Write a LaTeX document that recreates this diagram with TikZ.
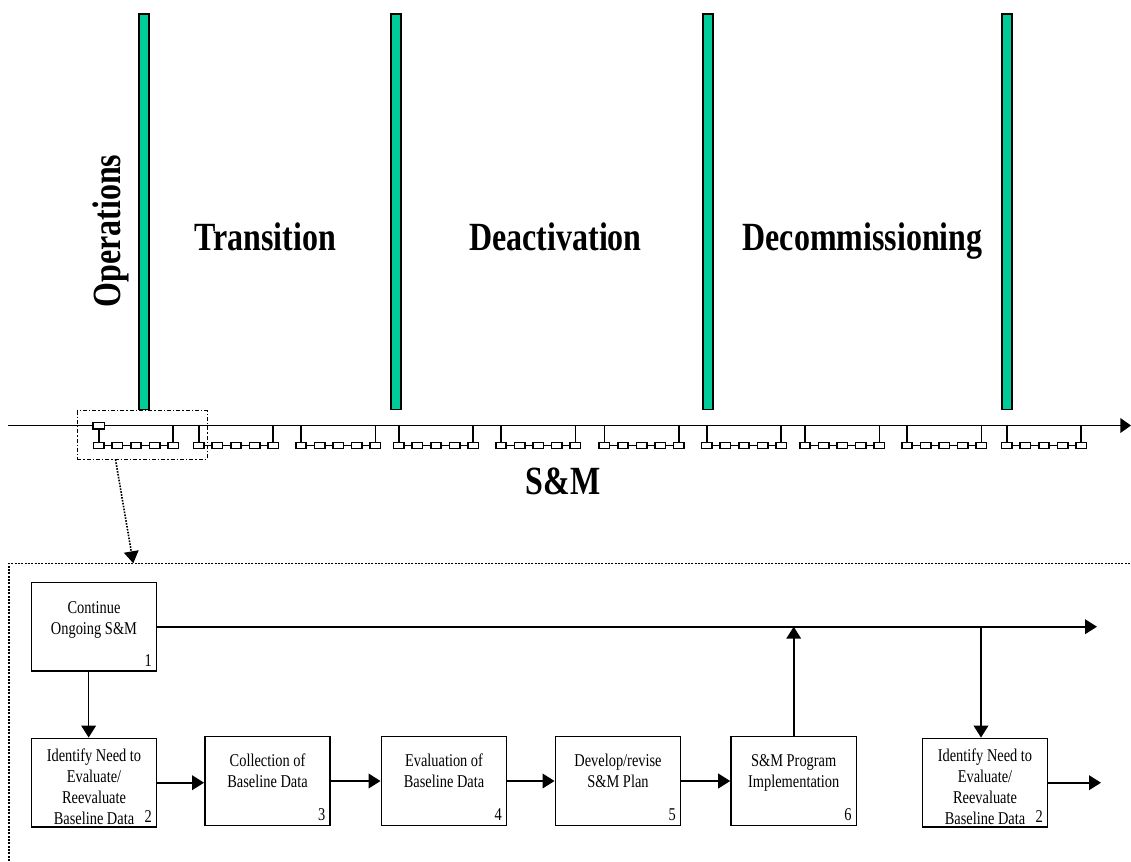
\documentclass[tikz,border=0pt]{standalone}
\usepackage{fontspec}
\setmainfont{Liberation Serif}[FakeStretch=0.8]
\usepackage{tikz}
\usetikzlibrary{arrows.meta}
\definecolor{phasegreen}{RGB}{0,204,153}
\newcommand{\lift}[2]{\raisebox{#1}[0pt][0pt]{\begin{tabular}{@{}c@{}}#2\end{tabular}}}
\tikzset{bar/.style={draw=black, line width=1.2pt, fill=phasegreen},
  cell/.style={draw, line width=1.2pt, minimum width=7.8pt, minimum height=4.6pt, inner sep=0pt},
  link/.style={line width=1.2pt},
  stage/.style={font=\fontsize{30}{36}\selectfont\bfseries, anchor=base, inner sep=0pt},
  task/.style={draw, line width=1.2pt, minimum width=94pt, minimum height=66.5pt,
    inner sep=0pt, font=\fontsize{13.5}{15.75}\selectfont},
  num/.style={anchor=south east, inner xsep=4pt, inner ysep=4pt,
    font=\fontsize{13.5}{15.75}\selectfont},
  flow/.style={line width=1.2pt, -{Triangle[length=9pt,width=11pt]}}}

\begin{document}
\begin{tikzpicture}[x=0.75pt, y=-0.75pt]
      \useasboundingbox (0,0) rectangle (1131,861);

      % phase boundaries
      \foreach \bx in {144.2,396.2,708,1007}
        \draw [bar] (\bx-5,14) rectangle (\bx+5,409.5);

      \node (ops) [stage, rotate=90] at (120,231) {Operations};
      \node (trans) [stage] at (265,250) {Transition};
      \node (deact) [stage] at (555.5,250) {Deactivation};
      \node (decom) [stage] at (862.5,250) {Decommissioning};
      \node (sm) [stage] at (563,494) {S\&M};

      % time line
      \coordinate (axL) at (8,425.5);
      \coordinate (axR) at (1131,425.5);
      \draw [link, -{Triangle[length=8pt,width=11pt]}] (axL) -- (axR);
      \node (hub) [cell, fill=white, minimum width=8.6pt, minimum height=4.8pt] at (98.7,425.5) {};

      \foreach \s [count=\k] in {92.7,192.7,295,392.7,495,598.3,700.7,799,901,1000.7} {
        \foreach \j in {0,...,4}
          \node (c\k-\j) [cell] at (\s+6+18.6*\j,445.5) {};
        \foreach \j [evaluate=\j as \jj using int(\j+1)] in {0,...,3}
          \draw [link] (c\k-\j.east) -- (c\k-\jj.west);
        \ifnum\k=1
          \draw [link] (c\k-0.north) -- (hub.south);
        \else
          \draw [link] (c\k-0.north) -- (c\k-0.north |- axL);
        \fi
        \draw [link] (c\k-4.north) -- (c\k-4.north |- axL);
      }

      % close-up of one cycle
      \node (focus) [draw, line width=0.7pt, dash pattern=on 3pt off 1.5pt on 1pt off 1.5pt,
        minimum width=97.5pt, minimum height=36.2pt, inner sep=0pt] at (142.3,434.9) {};
      \coordinate (frametop) at (133.3,563.3);
      \draw [line width=1.1pt, dash pattern=on 1.5pt off 1pt] (9,861) -- (9,563.3) -- (1131,563.3);
      \draw [flow, densely dotted] ([xshift=29pt]focus.south west) -- (frametop);

      \node (b1) [task] at (94,626.7) {\lift{1.6pt}{Continue\\Ongoing S\&M}};
      \node (b2) [task] at (94,782.7) {\lift{-7.9pt}{Identify Need to\\Evaluate/\\Reevaluate\\Baseline Data}};
      \node (b3) [task] at (267.5,781) {\lift{2.3pt}{Collection of\\Baseline Data}};
      \node (b4) [task] at (444,781) {\lift{2.3pt}{Evaluation of\\Baseline Data}};
      \node (b5) [task] at (618,781) {\lift{2.3pt}{Develop/revise\\S\&M Plan}};
      \node (b6) [task] at (793.7,781) {\lift{2.3pt}{S\&M Program\\Implementation}};
      \node (b7) [task] at (985,782.7) {\lift{-7.9pt}{Identify Need to\\Evaluate/\\Reevaluate\\Baseline Data}};
      \foreach \b/\n in {b1/1,b2/2,b3/3,b4/4,b5/5,b6/6,b7/2}
        \node (\b n) [num] at (\b.south east) {\n};

      \coordinate (out1) at (1097,626.7);
      \coordinate (out2) at (1101,782.7);
      \draw [flow] (b1.east) -- (out1);
      \draw [flow] ([xshift=-4pt]b1.south) -- ([xshift=-4pt]b2.north);
      \draw [flow] (b2.east) -- (b2.east -| b3.west);
      \draw [flow] (b3) -- (b4);
      \draw [flow] (b4) -- (b5);
      \draw [flow] (b5) -- (b6);
      \draw [flow] (b6.north) -- (b6.north |- b1.east);
      \draw [flow] ([xshift=-3pt]b7.north |- b1.east) -- ([xshift=-3pt]b7.north);
      \draw [flow] (b7.east) -- (out2);
    \end{tikzpicture}
\end{document}
